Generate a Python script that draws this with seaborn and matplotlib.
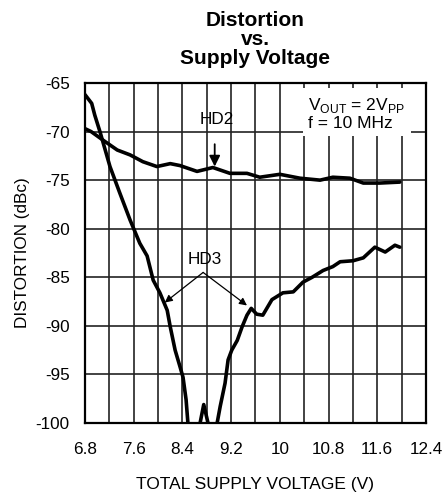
import numpy as np
import matplotlib
matplotlib.use("Agg")
import matplotlib.pyplot as plt
import seaborn as sns

sns.set_style("white")
plt.rcParams['font.family'] = ['Liberation Sans', 'DejaVu Sans']
plt.rcParams['text.color'] = 'black'
plt.rcParams['axes.labelcolor'] = 'black'
plt.rcParams['xtick.color'] = 'black'
plt.rcParams['ytick.color'] = 'black'
plt.rcParams['mathtext.fontset'] = 'custom'
plt.rcParams['mathtext.rm'] = 'Liberation Sans'

# HD2 curve
hd2_v = [6.8, 6.9, 7.1, 7.33, 7.54, 7.75, 7.98, 8.2, 8.36, 8.64, 8.9, 9.18, 9.46,
         9.67, 10.0, 10.33, 10.66, 10.87, 11.15, 11.37, 11.64, 11.97]
hd2_d = [-69.7, -70.0, -70.9, -71.9, -72.4, -73.1, -73.6, -73.3, -73.5, -74.1, -73.7, -74.3, -74.3,
         -74.7, -74.4, -74.8, -75.0, -74.7, -74.8, -75.3, -75.3, -75.2]

# HD3 curve (dips below the axis floor)
hd3_v = [6.8, 6.91, 6.96, 7.05, 7.21, 7.37, 7.54, 7.7, 7.82, 7.92, 8.03, 8.15, 8.2,
         8.28, 8.36, 8.41, 8.46, 8.49, 8.55, 8.69, 8.75, 8.82, 8.9, 8.97, 9.02,
         9.1, 9.15, 9.21, 9.3, 9.38, 9.46, 9.53, 9.62, 9.72, 9.87, 10.05, 10.22,
         10.38, 10.53, 10.71, 10.87, 10.99, 11.2, 11.37, 11.56, 11.73, 11.89, 11.97]
hd3_d = [-66.2, -67.1, -68.3, -70.1, -73.6, -76.3, -79.1, -81.5, -82.8, -85.3, -86.6, -88.4, -90.1,
         -92.5, -94.2, -95.3, -97.6, -100.0, -103.0, -100.0, -98.1, -100.0, -103.0, -100.0, -98.3,
         -95.9, -93.5, -92.5, -91.5, -90.1, -88.9, -88.2, -88.8, -88.9, -87.3, -86.6, -86.5,
         -85.5, -85.0, -84.3, -83.9, -83.4, -83.3, -83.0, -81.9, -82.4, -81.7, -81.9]

x_ticks = [6.8, 7.6, 8.4, 9.2, 10, 10.8, 11.6, 12.4]
x_tick_labels = ["6.8", "7.6", "8.4", "9.2", "10", "10.8", "11.6", "12.4"]
y_ticks = [-65, -70, -75, -80, -85, -90, -95, -100]

fig = plt.figure(figsize=(4.43, 4.93), dpi=100)
ax = fig.add_axes([85 / 443, 70 / 493, 341 / 443, 340 / 493])

sns.lineplot(x=hd2_v, y=hd2_d, sort=False, color="black", lw=2.6, ax=ax, zorder=4)
sns.lineplot(x=hd3_v, y=hd3_d, sort=False, color="black", lw=2.6, ax=ax, zorder=4)

ax.set_xlim(6.8, 12.4)
ax.set_ylim(-100, -65)
ax.set_xticks(x_ticks)
ax.set_xticklabels(x_tick_labels)
ax.set_xticks(np.arange(6.8, 12.41, 0.4), minor=True)
ax.set_yticks(y_ticks)
ax.set_yticklabels([str(v) for v in y_ticks])
ax.grid(True, which="both", color="#222222", lw=1.2, zorder=1)
ax.set_axisbelow(True)
ax.tick_params(which="both", length=0, labelsize=12.3)
ax.tick_params(axis="y", pad=11)
ax.tick_params(axis="x", pad=14)
for s in ax.spines.values():
    s.set_color("black")
    s.set_linewidth(1.6)

ax.set_xlabel("TOTAL SUPPLY VOLTAGE (V)", fontsize=12.5, labelpad=14)
ax.set_ylabel("DISTORTION (dBc)", fontsize=12.3, labelpad=4)
ax.set_title("Distortion\nvs.\nSupply Voltage", fontsize=15, fontweight="bold",
             linespacing=1.0, pad=14)

ax.text(10.47, -66.3, "V$_\\mathregular{OUT}$ = 2V$_\\mathregular{PP}$\nf = 10 MHz",
        fontsize=12.5, va="top", ha="left", linespacing=1.1, zorder=3,
        bbox=dict(facecolor="white", edgecolor="none", pad=4))

ax.text(8.97, -68.8, "HD2", ha="center", va="center", fontsize=12.3, zorder=5)
ax.annotate("", xy=(8.93, -73.6), xytext=(8.93, -71.3),
            arrowprops=dict(arrowstyle="-|>", color="black", lw=1.3, shrinkA=0, shrinkB=0,
                            mutation_scale=16))
ax.annotate("", xy=(8.11, -87.6), xytext=(8.74, -84.5),
            arrowprops=dict(arrowstyle="-|>", color="black", lw=0.9, shrinkA=0, shrinkB=0,
                            mutation_scale=11))
ax.annotate("", xy=(9.46, -87.9), xytext=(8.74, -84.5),
            arrowprops=dict(arrowstyle="-|>", color="black", lw=0.9, shrinkA=0, shrinkB=0,
                            mutation_scale=11))
ax.text(8.77, -83.2, "HD3", ha="center", va="center", fontsize=12.3, zorder=5)

fig.savefig("out.png", dpi=100)
